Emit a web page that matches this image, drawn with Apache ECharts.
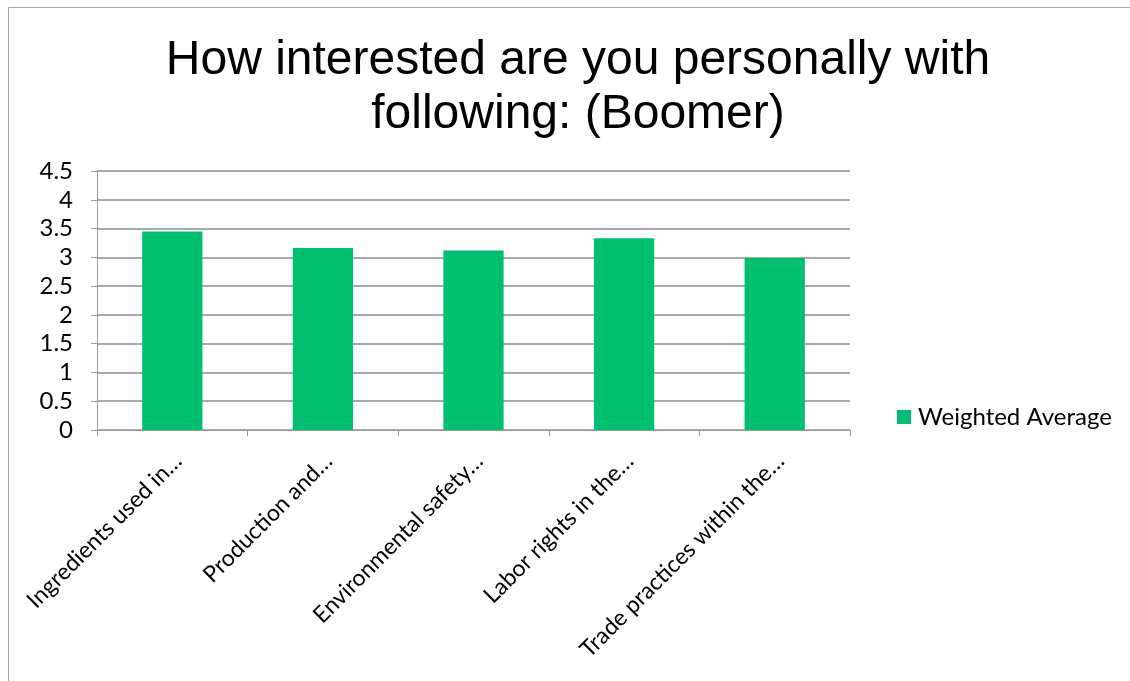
<!DOCTYPE html>
<html>
<head>
<meta charset="utf-8">
<script src="https://cdn.jsdelivr.net/npm/echarts@6/dist/echarts.min.js"></script>
<style>
  html, body { margin: 0; padding: 0; background: #fff; }
  #chart { width: 1130px; height: 681px; }
</style>
</head>
<body>
<div id="chart"></div>
<script>
// Survey topics (labels are shortened with an ellipsis as displayed)
const categories = [
  'Ingredients used in…',
  'Production and…',
  'Environmental safety…',
  'Labor rights in the…',
  'Trade practices within the…'
];
const seriesName = 'Weighted Average';
const weightedAverage = [3.45, 3.16, 3.12, 3.33, 2.99];
const yTicks = [0, 0.5, 1, 1.5, 2, 2.5, 3, 3.5, 4, 4.5];

const chart = echarts.init(document.getElementById('chart'), null, { renderer: 'canvas' });

const labelFont = 'Lato, "Open Sans", sans-serif';

chart.setOption({
  backgroundColor: '#ffffff',
  animation: false,
  graphic: [{
    type: 'rect',
    shape: { x: 8.5, y: 7.5, width: 1400, height: 900 },
    style: { fill: 'none', stroke: '#a6a6a6', lineWidth: 1 },
    silent: true
  }],
  title: {
    text: 'How interested are you personally with\nfollowing: (Boomer)',
    left: 573,
    top: 29,
    textAlign: 'center',
    textStyle: {
      fontFamily: '"Liberation Sans", Arial, sans-serif',
      fontSize: 48,
      fontWeight: 'normal',
      color: '#000',
      lineHeight: 54
    }
  },
  legend: {
    data: [seriesName],
    orient: 'vertical',
    left: 892,
    top: 400,
    itemWidth: 14,
    itemHeight: 14,
    itemGap: 8,
    icon: 'rect',
    textStyle: { fontFamily: labelFont, fontSize: 24, color: '#000', padding: [0, 0, 0, 2] }
  },
  grid: { left: 97, right: 280, top: 171, bottom: 251, containLabel: false },
  xAxis: {
    type: 'category',
    data: categories,
    boundaryGap: true,
    axisLine: { show: true, lineStyle: { color: '#9a9a9a', width: 1 } },
    axisTick: { show: true, length: 6, lineStyle: { color: '#9a9a9a' } },
    axisLabel: {
      rotate: 45,
      interval: 0,
      margin: 33,
      padding: [0, -8, 0, 0],
      fontFamily: labelFont,
      fontSize: 23,
      color: '#000'
    },
    splitLine: { show: false }
  },
  yAxis: {
    type: 'value',
    min: yTicks[0],
    max: yTicks[yTicks.length - 1],
    interval: 0.5,
    axisLine: { show: true, lineStyle: { color: '#9a9a9a', width: 1 } },
    axisTick: { show: true, length: 6, lineStyle: { color: '#9a9a9a' } },
    axisLabel: {
      margin: 24,
      fontFamily: labelFont,
      fontSize: 24,
      color: '#000',
      formatter: v => String(v)
    },
    splitLine: { show: true, lineStyle: { color: '#8c8c8c', width: 1.5 } }
  },
  series: [{
    name: seriesName,
    type: 'bar',
    data: weightedAverage,
    barWidth: '40%',
    itemStyle: { color: '#00bf6f' }
  }]
});
</script>
</body>
</html>
